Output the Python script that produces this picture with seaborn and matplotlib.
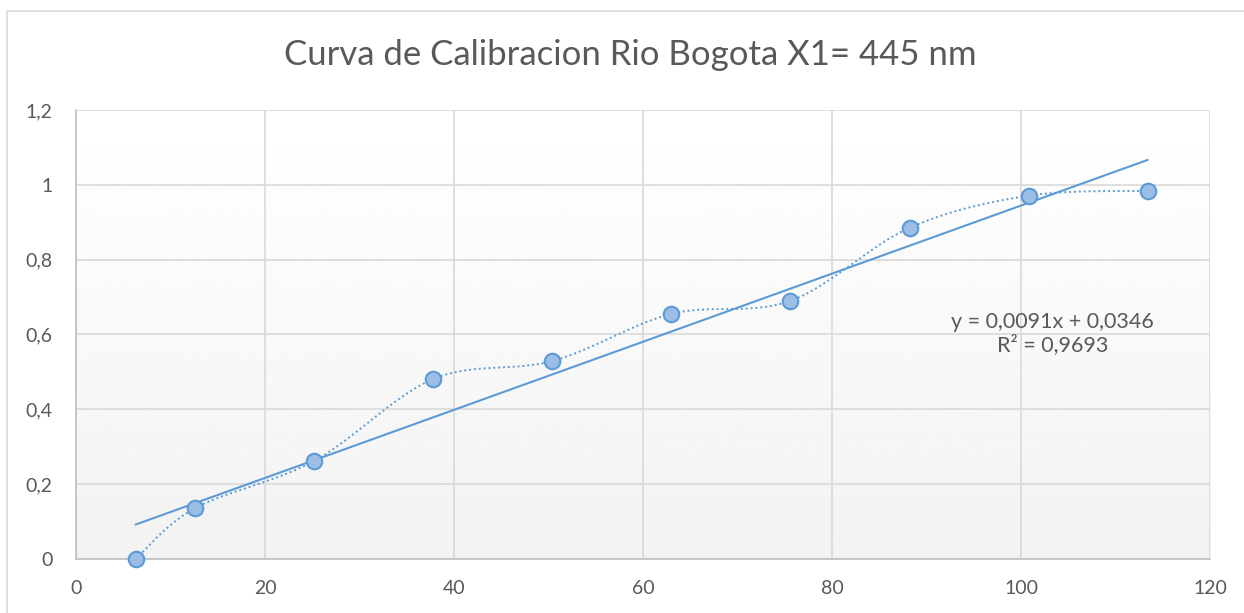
import numpy as np
import pandas as pd
import seaborn as sns
import matplotlib.pyplot as plt
from matplotlib import ticker
from matplotlib.patches import Rectangle

# data
conc = [6.3, 12.6, 25.2, 37.8, 50.4, 63.0, 75.6, 88.2, 100.8, 113.4]
absorb = [0.0, 0.136, 0.262, 0.481, 0.529, 0.655, 0.69, 0.885, 0.971, 0.984]
slope, intercept, r2 = 0.0091, 0.0346, 0.9693
title = 'Curva de Calibracion Rio Bogota X1= 445 nm'

df = pd.DataFrame({'x': conc, 'y': absorb})
blue = '#5b9bd5'
grey = '#595959'


def excel_smooth(x, y, n=30):
    # bezier smoothing similar to the excel "smoothed line" option
    x = np.asarray(x, float)
    y = np.asarray(y, float)
    px = np.concatenate([[x[0]], x, [x[-1]]])
    py = np.concatenate([[y[0]], y, [y[-1]]])
    xs, ys = [], []
    t = np.linspace(0, 1, n)[:, None]
    for i in range(1, len(px) - 2):
        p0 = np.array([px[i], py[i]])
        p3 = np.array([px[i + 1], py[i + 1]])
        p1 = p0 + (np.array([px[i + 1], py[i + 1]]) - np.array([px[i - 1], py[i - 1]])) / 6
        p2 = p3 - (np.array([px[i + 2], py[i + 2]]) - np.array([px[i], py[i]])) / 6
        b = (1 - t) ** 3 * p0 + 3 * (1 - t) ** 2 * t * p1 + 3 * (1 - t) * t ** 2 * p2 + t ** 3 * p3
        xs.append(b[:, 0])
        ys.append(b[:, 1])
    return np.concatenate(xs), np.concatenate(ys)


sns.set_style('white')
plt.rcParams['font.family'] = ['Lato', 'DejaVu Sans']

fig = plt.figure(figsize=(12.44, 6.13), dpi=100)
ax = fig.add_axes([0.0611, 0.0881, 0.9116, 0.7325])

# plot area gradient
grad = np.linspace(0.95, 1.0, 256).reshape(-1, 1)
ax.imshow(grad, cmap='gray', vmin=0, vmax=1, aspect='auto', extent=[0, 1, 0, 1],
          transform=ax.transAxes, origin='lower', zorder=0)

sx, sy = excel_smooth(conc, absorb)
ax.plot(sx, sy, color=blue, lw=1.4, ls=(0, (1, 1.5)), zorder=2)

tx = np.array([conc[0], conc[-1]])
ax.plot(tx, slope * tx + intercept, color=blue, lw=1.5, zorder=3)

sns.scatterplot(data=df, x='x', y='y', ax=ax, s=125, color='#9cbde6',
                edgecolor=blue, linewidth=1.5, zorder=4, clip_on=False)

ax.text(103.3, 0.602, 'y = 0,0091x + 0,0346\nR² = 0,9693', ha='center', va='center',
        fontsize=15.5, color=grey, linespacing=1.15)

ax.set_xlim(0, 120)
ax.set_ylim(0, 1.2)
ax.xaxis.set_major_locator(ticker.MultipleLocator(20))
ax.yaxis.set_major_locator(ticker.MultipleLocator(0.2))
fmt = ticker.FuncFormatter(lambda v, p: f'{v:g}'.replace('.', ','))
ax.xaxis.set_major_formatter(fmt)
ax.yaxis.set_major_formatter(fmt)
ax.grid(True, color='#d9d9d9', lw=1.2)
ax.set_axisbelow(True)
ax.tick_params(length=0, labelsize=14, labelcolor=grey)
ax.tick_params(axis='x', pad=15)
ax.tick_params(axis='y', pad=17)
for s in ['top', 'right']:
    ax.spines[s].set_visible(False)
for s in ['left', 'bottom']:
    ax.spines[s].set_color('#bfbfbf')
    ax.spines[s].set_linewidth(1.2)
ax.set_xlabel(None)
ax.set_ylabel(None)

fig.patches.append(Rectangle((7 / 1244, -0.01), 1.1, 1 - 11 / 613 + 0.01, transform=fig.transFigure,
                             fill=False, edgecolor='#d9d9d9', lw=1.2))
fig.text(630 / 1244, 1 - 55 / 613, title, ha='center', va='center', fontsize=25, color=grey)

fig.savefig('out.png', dpi=100)
